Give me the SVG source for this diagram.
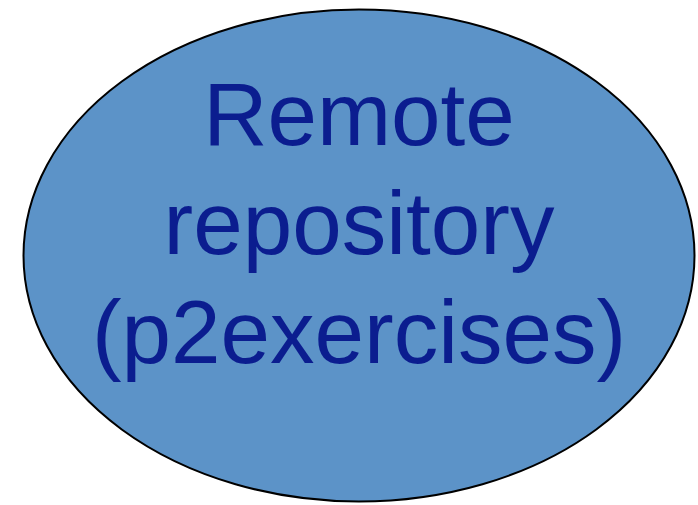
<svg xmlns="http://www.w3.org/2000/svg" width="698" height="505" viewBox="0 0 698 505">
<style>
.node{fill:#5c93c8;stroke:#000;stroke-width:2}
.lbl{font-family:"Liberation Sans",Arial,sans-serif;font-size:89px;fill:#0b1d8f;text-anchor:middle}
</style>
<rect width="698" height="505" fill="#fff"/>
<g id="remote">
<ellipse class="node" cx="359" cy="255.5" rx="335.5" ry="246"/>
<text class="lbl" x="359" y="145">Remote</text>
<text class="lbl" x="359" y="254">repository</text>
<text class="lbl" x="359" y="363">(p2exercises)</text>
</g>
<g id="connectors"/>
</svg>
